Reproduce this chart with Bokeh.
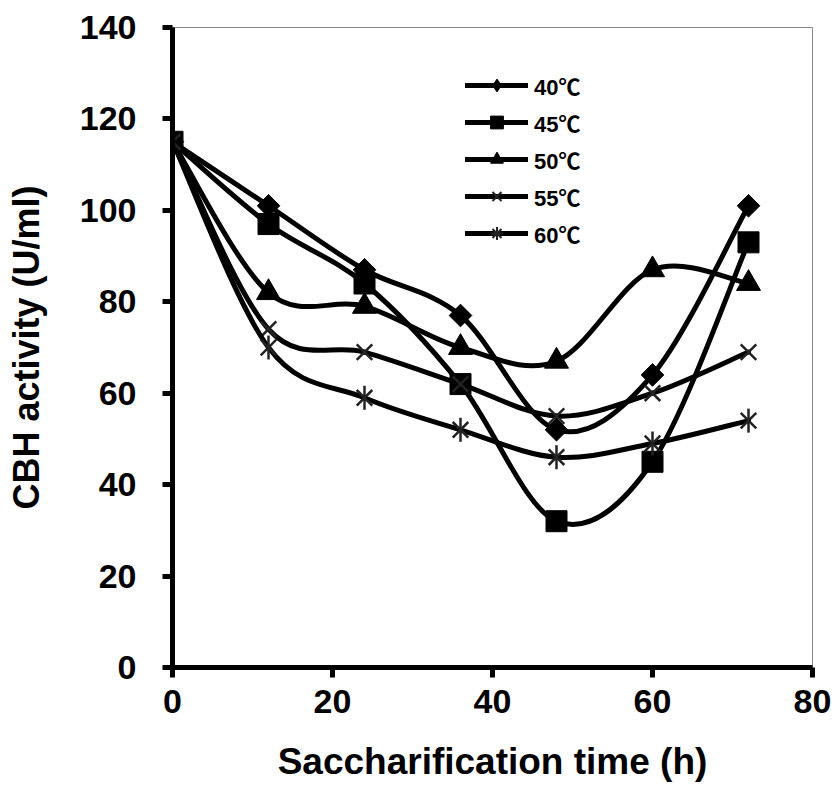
import numpy as np
from bokeh.plotting import figure
from bokeh.models import Range1d, FixedTicker, Legend, LegendItem, ColumnDataSource
from bokeh.embed import file_html
from bokeh.resources import INLINE

# ---- data ----
time_h = [0, 12, 24, 36, 48, 60, 72]
series_labels = ["40℃", "45℃", "50℃", "55℃", "60℃"]
cbh_40 = [115, 101, 87, 77, 52, 64, 101]
cbh_45 = [115, 97, 84, 62, 32, 45, 93]
cbh_50 = [115, 82, 79, 70, 67, 87, 84]
cbh_55 = [115, 74, 69, 62, 55, 60, 69]
cbh_60 = [115, 70, 59, 52, 46, 49, 54]
x_ticks = [0, 20, 40, 60, 80]
y_ticks = [0, 20, 40, 60, 80, 100, 120, 140]

FONT = "Liberation Sans"
LEGEND_FONT = "'Liberation Sans', 'Noto Sans CJK JP'"


def smooth_segments(xs, ys):
    """Catmull-Rom style Bezier segments (like a spreadsheet 'smoothed line')."""
    out = {}
    for key, v in (("x", xs), ("y", ys)):
        a = np.asarray(v, dtype=float)
        n = len(a)
        ap = np.concatenate([[a[0]], a, [a[-1]]])
        p0 = a[:-1]
        p1 = a[1:]
        c0 = p0 + (ap[2:n + 1] - ap[0:n - 1]) / 6.0
        c1 = p1 - (ap[3:n + 2] - ap[1:n]) / 6.0
        out[key + "0"] = p0
        out[key + "1"] = p1
        out["c" + key + "0"] = c0
        out["c" + key + "1"] = c1
    return ColumnDataSource(out)


p = figure(width=833, height=790,
           x_range=Range1d(0, 80), y_range=Range1d(0, 140),
           output_backend="svg", toolbar_location=None,
           min_border_left=172, min_border_right=21,
           min_border_top=27, min_border_bottom=123)
p.grid.visible = False
p.outline_line_color = "#888888"
p.outline_line_width = 1
p.background_fill_color = "white"
p.border_fill_color = "white"

series = [cbh_40, cbh_45, cbh_50, cbh_55, cbh_60]

for vals in series:
    src = smooth_segments(time_h, vals)
    p.bezier(x0="x0", y0="y0", x1="x1", y1="y1",
             cx0="cx0", cy0="cy0", cx1="cx1", cy1="cy1",
             source=src, line_color="black", line_width=5, line_cap="round")
    if vals is cbh_40:
        p.scatter(time_h, vals, marker="square", size=16, angle=np.pi / 4,
                  fill_color="black", line_color="black")
    elif vals is cbh_45:
        p.scatter(time_h, vals, marker="square", size=21,
                  fill_color="black", line_color="black")
    elif vals is cbh_50:
        p.scatter(time_h, vals, marker="triangle", size=24,
                  fill_color="black", line_color="black")
    elif vals is cbh_55:
        p.scatter(time_h, vals, marker="x", size=22,
                  line_color="#222222", line_width=2.5)
    else:
        p.scatter(time_h, vals, marker="x", size=22,
                  line_color="#222222", line_width=2.5)
        p.scatter(time_h, vals, marker="dash", size=24, angle=np.pi / 2,
                  line_color="#222222", line_width=2.5)

# ---- legend with its own proxy renderers (NaN data, never drawn in the plot) ----
legend_markers = ["diamond", "square", "triangle", "x", "asterisk"]
items = []
for lab, mk in zip(series_labels, legend_markers):
    proxy = ColumnDataSource(dict(x=[np.nan], y=[np.nan]))
    lr = p.line("x", "y", source=proxy, line_color="black", line_width=5, line_cap="round")
    if mk in ("x", "asterisk"):
        mr = p.scatter("x", "y", source=proxy, marker=mk, line_color="#222222",
                       line_width=2, fill_color=None)
    else:
        mr = p.scatter("x", "y", source=proxy, marker=mk, line_color="black",
                       fill_color="black")
    items.append(LegendItem(label=lab, renderers=[lr, mr]))

legend = Legend(items=items, location=(293, 418),
                glyph_width=63, glyph_height=32, label_height=32,
                spacing=5, padding=0, margin=0, label_standoff=6,
                label_text_font=LEGEND_FONT, label_text_font_style="bold",
                label_text_font_size="22px", label_text_color="black",
                label_text_baseline="middle",
                border_line_color=None, background_fill_alpha=0)
p.add_layout(legend)

# ---- axes ----
for ax in (p.xaxis[0], p.yaxis[0]):
    ax.axis_line_width = 5
    ax.axis_line_color = "black"
    ax.major_tick_line_width = 5
    ax.major_tick_line_color = "black"
    ax.major_tick_out = 10
    ax.major_tick_in = 0
    ax.minor_tick_out = 0
    ax.minor_tick_in = 0
    ax.major_label_text_font = FONT
    ax.major_label_text_font_style = "bold"
    ax.major_label_text_font_size = "34px"
    ax.major_label_text_color = "black"
    ax.axis_label_text_font = FONT
    ax.axis_label_text_font_style = "bold"
    ax.axis_label_text_color = "black"

p.xaxis.axis_label_text_font_size = "37px"
p.yaxis.axis_label_text_font_size = "36px"
p.xaxis.ticker = FixedTicker(ticks=x_ticks)
p.yaxis.ticker = FixedTicker(ticks=y_ticks)
p.xaxis.axis_label = "Saccharification time (h)"
p.yaxis.axis_label = "CBH activity (U/ml)"
p.xaxis.major_label_standoff = 12
p.yaxis.major_label_standoff = 26
p.xaxis.axis_label_standoff = 25
p.yaxis.axis_label_standoff = 30

open("out.html", "w").write(file_html(p, INLINE))
